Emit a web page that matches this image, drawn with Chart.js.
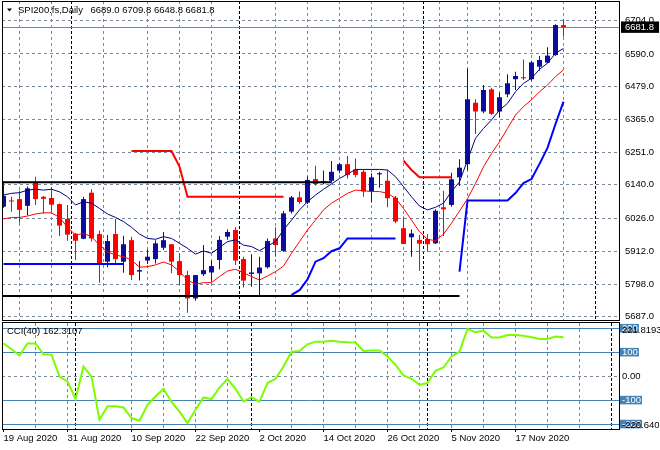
<!DOCTYPE html>
<html>
<head>
<meta charset="utf-8">
<script src="https://cdn.jsdelivr.net/npm/chart.js@4.4.0/dist/chart.umd.min.js"></script>
<style>
  html, body { margin: 0; padding: 0; background: #ffffff; }
  #wrap { position: relative; width: 660px; height: 450px; overflow: hidden; }
  canvas { position: absolute; left: 0; }
  #priceCanvas { top: 0; }
  #cciCanvas { top: 321px; }
</style>
</head>
<body>
<div id="wrap">
  <canvas id="priceCanvas" width="660" height="321"></canvas>
  <canvas id="cciCanvas" width="660" height="129"></canvas>
</div>
<script>
// SPI200 futures, daily bars 19 Aug 2020 .. 25 Nov 2020
const symbolName = 'SPI200.fs,Daily';
const n = null;

const opens = [
  6065, 6086, 6091, 6068, 6149, 6099, 6095, 6074, 6023, 5972,
  5955, 6113, 5971, 5876, 5971, 5876, 5950, 5842, 5880, 5885,
  5924, 5936, 5878, 5830, 5750, 5833, 5839, 5882, 5962, 5985,
  5885, 5834, 5836, 5857, 5956, 5913, 6048, 6097, 6079, 6160,
  6146, 6154, 6189, 6211, 6193, 6185, 6117, 6176, 6154, 6096,
  5991, 5960, 5951, 5954, 5939, 6063, 6071, 6166, 6211, 6422,
  6392, 6468, 6392, 6451, 6503, 6510, 6503, 6546, 6560, 6586,
  6689.0
];
const highs = [
  6153, 6099, 6120, 6134, 6168, 6102, 6131, 6076, 6071, 5975,
  6099, 6125, 5983, 5968, 6023, 5965, 5962, 5878, 5918, 5950,
  5978, 5937, 5905, 5845, 5830, 5933, 5880, 5964, 5987, 5994,
  5893, 5902, 5893, 5956, 5994, 6050, 6102, 6117, 6170, 6206,
  6189, 6222, 6216, 6239, 6231, 6193, 6180, 6185, 6191, 6102,
  6031, 5987, 5968, 5971, 6056, 6120, 6182, 6228, 6540, 6434,
  6483, 6474, 6457, 6520, 6529, 6571, 6566, 6583, 6613, 6692,
  6709.8
];
const lows = [
  6061, 6048, 6010, 6036, 6071, 6042, 6048, 5964, 5948, 5882,
  5953, 5945, 5804, 5857, 5870, 5838, 5813, 5811, 5868, 5870,
  5916, 5836, 5798, 5701, 5742, 5827, 5807, 5850, 5951, 5865,
  5787, 5790, 5758, 5853, 5893, 5910, 6042, 6074, 6074, 6137,
  6142, 6148, 6180, 6162, 6166, 6099, 6079, 6130, 6063, 6008,
  5937, 5893, 5845, 5910, 5937, 5964, 6065, 6136, 6191, 6315,
  6386, 6380, 6372, 6441, 6466, 6500, 6498, 6532, 6558, 6584,
  6648.8
];
const closes = [
  6102, 6083, 6054, 6128, 6091, 6092, 6072, 6000, 5969, 5948,
  6091, 5956, 5870, 5947, 5885, 5936, 5830, 5847, 5893, 5939,
  5950, 5876, 5830, 5750, 5830, 5847, 5861, 5951, 5978, 5880,
  5811, 5839, 5856, 5947, 5933, 6042, 6097, 6081, 6157, 6143,
  6153, 6185, 6211, 6174, 6174, 6117, 6166, 6180, 6094, 6014,
  5937, 5973, 5938, 5936, 6051, 6056, 6159, 6199, 6434, 6392,
  6466, 6384, 6441, 6489, 6514, 6506, 6561, 6569, 6584, 6689,
  6681.8
];

// fast (navy) and slow (red) moving averages
const fastAverage = [
  6105, 6111, 6113, 6122, 6125, 6122, 6125, 6116, 6099, 6071,
  6082, 6077, 6059, 6040, 6028, 6014, 5994, 5971, 5956, 5953,
  5962, 5956, 5939, 5922, 5902, 5913, 5905, 5925, 5945, 5951,
  5933, 5928, 5914, 5930, 5945, 5985, 6019, 6054, 6082, 6105,
  6125, 6143, 6162, 6177, 6193, 6193, 6193, 6193, 6191, 6168,
  6134, 6099, 6067, 6054, 6063, 6077, 6118, 6150, 6225, 6300,
  6334, 6363, 6397, 6420, 6460, 6489, 6506, 6537, 6558, 6592,
  6609
];
const slowAverage = [
  6023, 6028, 6028, 6033, 6040, 6044, 6044, 6028, 5994, 5968,
  5973, 5962, 5933, 5910, 5899, 5893, 5882, 5857, 5859, 5865,
  5875, 5865, 5842, 5813, 5799, 5804, 5804, 5825, 5844, 5850,
  5838, 5825, 5813, 5827, 5842, 5861, 5905, 5945, 5985, 6019,
  6054, 6077, 6094, 6111, 6122, 6120, 6117, 6117, 6111, 6094,
  6059, 6019, 5979, 5953, 5948, 5971, 6008, 6050, 6092, 6145,
  6202, 6248, 6288, 6334, 6380, 6409, 6432, 6460, 6483, 6512,
  6535
];

// trailing stop: blue below price, red above price
const stopUp = [
  5868, 5868, 5868, 5868, 5868, 5868, 5868, 5868, 5868, 5868,
  5868, 5868, 5868, 5868, 5868, 5868, n, n, n, n,
  n, n, n, n, n, n, n, n, n, n,
  n, n, n, n, n, n, 5762, 5778, 5815, 5876,
  5888, 5912, 5922, 5956, 5956, 5956, 5956, 5956, 5956, 5956,
  n, n, n, n, n, n, n, 5842, 6086, 6086,
  6086, 6086, 6086, 6086, 6112, 6146, 6160, 6212, 6267, 6349,
  6426
];
const stopDown = [
  n, n, n, n, n, n, n, n, n, n,
  n, n, n, n, n, n, 6256, 6256, 6256, 6256,
  6256, 6256, 6203, 6099, 6099, 6099, 6099, 6099, 6099, 6099,
  6099, 6099, 6099, 6099, 6099, 6099, n, n, n, n,
  n, n, n, n, n, n, n, n, n, n,
  6223, 6191, 6166, 6166, 6166, 6166, 6166, n, n, n,
  n, n, n, n, n, n, n, n, n, n,
  n
];

// hand drawn support / resistance lines
const levelPrices = [6149, 5758];
const levelStartBars = [-3, -3];
const levelEndBars = [41, 57];

const cciValues = [
  137, 112, 86, 136, 136, 91, 89, -2, -22, -95,
  40, -2, -182, -126, -126, -131, -175, -186, -120, -85,
  -53, -108, -148, -196, -140, -89, -96, -48, -12, -53,
  -106, -88, -106, -29, -11, 40, 102, 105, 133, 144,
  144, 148, 144, 141, 140, 105, 107, 107, 82, 47,
  3, -11, -36, -29, 22, 36, 82, 102, 197, 183,
  190, 161, 161, 172, 172, 169, 162, 155, 155, 165,
  162.3107
];

const priceTicks = [6704.0, 6590.0, 6479.0, 6365.0, 6251.0, 6140.0, 6026.0, 5912.0, 5798.0, 5687.0];
const lastPrice = 6681.8;
const priceMin = 5675.7;
const priceMax = 6771.7;

const cciTicks = [-200, -100, 0, 100, 200];
const cciMin = -220.640;
const cciMax = 221.8193;

const dateLabels = ['19 Aug 2020', '31 Aug 2020', '10 Sep 2020', '22 Sep 2020', '2 Oct 2020',
                    '14 Oct 2020', '26 Oct 2020', '5 Nov 2020', '17 Nov 2020'];
const dateLabelBars = [0, 8, 16, 24, 32, 40, 48, 56, 64];
const gridBars = [4, 8, 16, 20, 24, 28, 36, 40, 44, 48, 52, 56, 60, 64, 68, 72];
const separatorBars = [9, 31, 53, 76];
const barMin = -0.1875;
const barMax = 76.9375;

// colours as in the terminal
const bullColor = '#0c0ca0';
const bearColor = '#ff0000';
const gridColor = '#778899';
const clear = 'rgba(0,0,0,0)';
const fontFamily = '"Liberation Sans", Arial, sans-serif';
const fontSize = 9.5;

Chart.defaults.font.family = fontFamily;
Chart.defaults.font.size = fontSize;
Chart.defaults.color = '#000000';

const toPoints = arr => arr.map((v, i) => ({ x: i, y: v }));
const candleColor = i => closes[i] >= opens[i] ? bullColor : bearColor;
const xTickValues = Array.from(new Set([...dateLabelBars, ...gridBars, ...separatorBars])).sort((a, b) => a - b);

// scriptable options are also resolved without a tick, so guard it
const tickValue = ctx => (ctx && ctx.tick) ? ctx.tick.value : NaN;

const zeroPadding = s => { s.paddingLeft = 0; s.paddingRight = 0; s.paddingTop = 0; s.paddingBottom = 0; };

function barGrid() {
  return {
    color: ctx => separatorBars.includes(tickValue(ctx)) ? '#000000'
      : (gridBars.includes(tickValue(ctx)) ? gridColor : clear),
    lineWidth: 1
  };
}
const barDash = ctx => separatorBars.includes(tickValue(ctx)) ? [3, 2] : [3, 3];

// frame round the panel plus the terminal's own captions
const panelText = {
  id: 'panelText',
  afterDraw(chart, args, opts) {
    const ctx = chart.ctx;
    const a = chart.chartArea;
    const top = Math.round(a.top) + (opts.frameShift || 0);
    ctx.save();
    ctx.strokeStyle = '#000000';
    ctx.lineWidth = 1;
    ctx.strokeRect(Math.round(a.left) + 0.5, top + 0.5, Math.round(a.right - a.left), Math.round(a.bottom) - top);
    ctx.font = fontSize + 'px ' + fontFamily;
    ctx.fillStyle = '#000000';
    ctx.textBaseline = 'middle';
    (opts.items || []).forEach(t => ctx.fillText(t.text, t.x, t.y));
    if (opts.marker) {
      ctx.beginPath();
      ctx.moveTo(7, 8.5);
      ctx.lineTo(12, 8.5);
      ctx.lineTo(9.5, 11.5);
      ctx.closePath();
      ctx.fill();
    }
    ctx.restore();
  }
};

const last = closes.length - 1;
const ohlcText = [opens[last], highs[last], lows[last], closes[last]].map(v => v.toFixed(1)).join(' ');

const levelSets = levelPrices.map((p, k) => ({
  type: 'line',
  data: [{ x: levelStartBars[k], y: p }, { x: levelEndBars[k], y: p }],
  borderColor: '#000000',
  borderWidth: 2,
  pointRadius: 0,
  order: 1
}));

new Chart(document.getElementById('priceCanvas'), {
  type: 'line',
  data: {
    datasets: [
      ...levelSets,
      { type: 'line', data: toPoints(stopDown), borderColor: '#ff0000', borderWidth: 2, pointRadius: 0, spanGaps: false, order: 2 },
      { type: 'line', data: toPoints(stopUp), borderColor: '#0000ff', borderWidth: 2, pointRadius: 0, spanGaps: false, order: 2 },
      { type: 'line', data: toPoints(fastAverage), borderColor: '#000080', borderWidth: 1, pointRadius: 0, order: 3 },
      { type: 'line', data: toPoints(slowAverage), borderColor: '#ff0000', borderWidth: 1, pointRadius: 0, order: 3 },
      {
        type: 'bar',
        data: opens.map((o, i) => ({ x: i, y: [o, closes[i]] })),
        backgroundColor: ctx => candleColor(ctx.dataIndex),
        barThickness: 5, grouped: false, borderWidth: 0, minBarLength: 1, inflateAmount: 0, order: 5
      },
      {
        type: 'bar',
        data: lows.map((l, i) => ({ x: i, y: [l, highs[i]] })),
        backgroundColor: ctx => candleColor(ctx.dataIndex),
        barThickness: 1, grouped: false, borderWidth: 0, inflateAmount: 0, order: 6
      }
    ]
  },
  options: {
    animation: false,
    responsive: false,
    events: [],
    layout: { padding: { left: 2, top: 1, right: 0, bottom: 1 } },
    plugins: {
      legend: { display: false },
      tooltip: { enabled: false },
      panelText: {
        marker: true,
        items: [
          { text: symbolName, x: 18, y: 10.5 },
          { text: ohlcText, x: 90.5, y: 10.5 }
        ]
      }
    },
    scales: {
      x: {
        type: 'linear', min: barMin, max: barMax, offset: false,
        afterBuildTicks: s => { s.ticks = xTickValues.map(v => ({ value: v })); },
        afterFit: s => { s.height = 0; zeroPadding(s); },
        ticks: { display: false, autoSkip: false },
        grid: { ...barGrid(), drawTicks: false },
        border: { display: false, dash: barDash }
      },
      y: {
        type: 'linear', position: 'right', min: priceMin, max: priceMax,
        afterBuildTicks: s => { s.ticks = [...priceTicks, lastPrice].map(v => ({ value: v })); },
        afterFit: s => { s.width = 41; zeroPadding(s); },
        ticks: {
          autoSkip: false,
          padding: 6,
          callback: v => v.toFixed(1),
          color: ctx => tickValue(ctx) === lastPrice ? '#ffffff' : '#000000',
          showLabelBackdrop: ctx => tickValue(ctx) === lastPrice,
          backdropColor: '#000000',
          backdropPadding: { left: 4, right: 5, top: 0, bottom: 0 }
        },
        grid: { color: gridColor, lineWidth: 1, drawTicks: false },
        border: { display: false, dash: ctx => tickValue(ctx) === lastPrice ? [] : [3, 3] }
      }
    }
  },
  plugins: [panelText]
});

new Chart(document.getElementById('cciCanvas'), {
  type: 'line',
  data: {
    datasets: [
      { data: toPoints(cciValues), borderColor: '#7cfc00', borderWidth: 2, pointRadius: 0, tension: 0 }
    ]
  },
  options: {
    animation: false,
    responsive: false,
    events: [],
    layout: { padding: { left: 2, top: 2, right: 0, bottom: 0 } },
    plugins: {
      legend: { display: false },
      tooltip: { enabled: false },
      panelText: {
        frameShift: -1,
        items: [
          { text: 'CCI(40) ' + cciValues[last].toFixed(4), x: 7, y: 10.5 },
          { text: cciMax.toFixed(4), x: 622, y: 9 },
          { text: cciMin.toFixed(3), x: 622, y: 104 }
        ]
      }
    },
    scales: {
      x: {
        type: 'linear', min: barMin, max: barMax, offset: false,
        afterBuildTicks: s => { s.ticks = xTickValues.map(v => ({ value: v })); },
        afterFit: s => { s.height = 21; zeroPadding(s); },
        ticks: {
          autoSkip: false, maxRotation: 0, minRotation: 0, align: 'start', padding: 1,
          callback: v => { const k = dateLabelBars.indexOf(v); return k >= 0 ? dateLabels[k] : ''; }
        },
        grid: {
          ...barGrid(),
          drawTicks: true, tickLength: 3,
          tickColor: ctx => dateLabelBars.includes(tickValue(ctx)) ? '#000000' : clear
        },
        border: { display: false, dash: barDash }
      },
      y: {
        type: 'linear', position: 'right', min: cciMin, max: cciMax,
        afterBuildTicks: s => { s.ticks = cciTicks.map(v => ({ value: v })); },
        afterFit: s => { s.width = 41; zeroPadding(s); },
        ticks: {
          autoSkip: false,
          padding: 3,
          font: { lineHeight: 0.9 },
          callback: v => v === 0 ? '0.00' : String(v),
          color: ctx => tickValue(ctx) === 0 ? '#000000' : '#ffffff',
          showLabelBackdrop: ctx => tickValue(ctx) !== 0,
          backdropColor: '#4682b4',
          backdropPadding: { left: 2, right: 1, top: 0, bottom: 0 }
        },
        grid: {
          color: ctx => tickValue(ctx) === 0 ? gridColor : '#4682b4',
          lineWidth: 1, drawTicks: false
        },
        border: { display: false, dash: ctx => tickValue(ctx) === 0 ? [3, 3] : [] }
      }
    }
  },
  plugins: [panelText]
});
</script>
</body>
</html>
